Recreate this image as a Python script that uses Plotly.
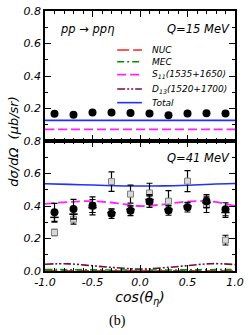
import plotly.graph_objects as go
from plotly.subplots import make_subplots

# ---------------- data ----------------
cos_pts = [-0.9, -0.7, -0.5, -0.3, -0.1, 0.1, 0.3, 0.5, 0.7, 0.9]

# Q = 15 MeV (top)
top_data = [0.167, 0.161, 0.175, 0.175, 0.173, 0.169, 0.159, 0.169, 0.171, 0.169]
top_err = [0.008, 0.006, 0.006, 0.006, 0.006, 0.006, 0.006, 0.006, 0.006, 0.006]

curve_x = [-1.0, -0.75, -0.5, -0.25, 0.0, 0.25, 0.5, 0.75, 1.0]
top_nuc = [0.001] * 9
top_mec = [0.002] * 9
top_s11 = [0.071, 0.071, 0.071, 0.071, 0.071, 0.071, 0.071, 0.071, 0.071]
top_d13 = [0.004, 0.004, 0.003, 0.003, 0.003, 0.003, 0.003, 0.004, 0.004]
top_tot = [0.127, 0.127, 0.127, 0.127, 0.127, 0.127, 0.127, 0.127, 0.127]

# Q = 41 MeV (bottom)
bot_circ = [0.361, 0.381, 0.401, 0.353, 0.371, 0.427, 0.373, 0.393, 0.430, 0.380]
bot_circ_err = [0.055, 0.060, 0.055, 0.030, 0.030, 0.035, 0.030, 0.030, 0.040, 0.040]
bot_cross = [0.330, 0.350, 0.390, 0.360, 0.380, 0.440, 0.380, 0.400, 0.420, 0.360]
bot_cross_err = [0.030, 0.030, 0.030, 0.020, 0.020, 0.030, 0.020, 0.020, 0.030, 0.030]
bot_sq = [0.237, 0.319, 0.400, 0.550, 0.473, 0.480, 0.430, 0.553, 0.410, 0.190]
bot_sq_err = [0.020, 0.030, 0.040, 0.060, 0.055, 0.060, 0.065, 0.065, 0.050, 0.030]

bot_nuc = [0.002] * 9
bot_mec = [0.009, 0.008, 0.007, 0.006, 0.006, 0.006, 0.007, 0.008, 0.009]
bot_s11 = [0.413, 0.425, 0.430, 0.418, 0.400, 0.410, 0.428, 0.428, 0.400]
bot_d13 = [0.042, 0.044, 0.032, 0.020, 0.012, 0.020, 0.033, 0.045, 0.040]
bot_tot = [0.537, 0.533, 0.529, 0.525, 0.523, 0.524, 0.528, 0.534, 0.538]

x_ticks = [-1.0, -0.5, 0.0, 0.5, 1.0]
x_ticklabels = ["-1.0", "-0.5", "0.0", "0.5", "1.0"]
y_top_ticks = [0.2, 0.4, 0.6, 0.8]
y_top_labels = ["0.2", "0.4", "0.6", "0.8"]
y_bot_ticks = [0.0, 0.2, 0.4, 0.6, 0.8]
y_bot_labels = ["0.0", "0.2", "0.4", "0.6", "0.8"]

legend_names = ["NUC", "MEC", "S<sub>11</sub>(1535+1650)", "D<sub>13</sub>(1520+1700)", "Total"]
# ---------------- styles ----------------
styles = [
    dict(color="#ff2020", dash="12px,4px", width=1.6),
    dict(color="#009000", dash="7px,3px,2px,3px", width=1.6),
    dict(color="#ff20ff", dash="9px,4px", width=1.8),
    dict(color="#701040", dash="8px,2px,2px,2px,2px,2px", width=1.6),
    dict(color="#2030ff", dash="solid", width=1.6),
]
FONT = "DejaVu Sans"

fig = make_subplots(rows=2, cols=1, shared_xaxes=True, vertical_spacing=0)

top_curves = [top_nuc, top_mec, top_s11, top_d13, top_tot]
bot_curves = [bot_nuc, bot_mec, bot_s11, bot_d13, bot_tot]
for i, (tc, bc) in enumerate(zip(top_curves, bot_curves)):
    fig.add_trace(go.Scatter(x=curve_x, y=tc, mode="lines", line=dict(shape="spline", **styles[i]),
                             name=legend_names[i], showlegend=False), row=1, col=1)
    fig.add_trace(go.Scatter(x=curve_x, y=bc, mode="lines", line=dict(shape="spline", **styles[i]),
                             name=legend_names[i], showlegend=False), row=2, col=1)

# data points
fig.add_trace(go.Scatter(x=cos_pts, y=top_data, mode="markers",
                         marker=dict(symbol="circle", size=8, color="black"),
                         error_y=dict(type="data", array=top_err, color="black", thickness=1, width=2),
                         showlegend=False), row=1, col=1)

fig.add_trace(go.Scatter(x=cos_pts, y=bot_sq, mode="markers",
                         marker=dict(symbol="square", size=6, color="#d8d8d8", line=dict(color="#808080", width=1)),
                         error_y=dict(type="data", array=bot_sq_err, color="black", thickness=1.2, width=3),
                         showlegend=False), row=2, col=1)
fig.add_trace(go.Scatter(x=cos_pts, y=bot_cross, mode="markers",
                         marker=dict(symbol="line-ew", size=6, color="black", line=dict(color="black", width=1.5)),
                         error_y=dict(type="data", array=bot_cross_err, color="black", thickness=1.2, width=3),
                         showlegend=False), row=2, col=1)
fig.add_trace(go.Scatter(x=cos_pts, y=bot_circ, mode="markers",
                         marker=dict(symbol="circle", size=8, color="black"),
                         error_y=dict(type="data", array=bot_circ_err, color="black", thickness=1.2, width=3),
                         showlegend=False), row=2, col=1)

# axes
axis_common = dict(showline=True, linecolor="black", linewidth=1.5, mirror="ticks",
                   ticks="inside", ticklen=6, tickcolor="black", tickwidth=1.2,
                   showgrid=False, zeroline=False,
                   tickfont=dict(family=FONT, size=11, color="black", style="italic"))
fig.update_xaxes(range=[-1, 1], tickvals=x_ticks, ticktext=x_ticklabels,
                 minor=dict(ticks="inside", ticklen=3, tickvals=[-0.9, -0.8, -0.7, -0.6, -0.4, -0.3, -0.2, -0.1,
                                                                 0.1, 0.2, 0.3, 0.4, 0.6, 0.7, 0.8, 0.9],
                            tickcolor="black", tickwidth=1),
                 **axis_common)
fig.update_xaxes(showticklabels=False, row=1, col=1)
fig.update_xaxes(title=dict(text="cos(θ<sub>η</sub>)", font=dict(family=FONT, size=14, color="black", style="italic"),
                            standoff=2), row=2, col=1)
fig.update_yaxes(range=[0, 0.8], tickvals=y_top_ticks, ticktext=y_top_labels,
                 minor=dict(ticks="inside", ticklen=3, tickvals=[0.1, 0.3, 0.5, 0.7], tickcolor="black", tickwidth=1),
                 row=1, col=1, **axis_common)
fig.update_yaxes(range=[0, 0.8], tickvals=y_bot_ticks, ticktext=y_bot_labels,
                 minor=dict(ticks="inside", ticklen=3, tickvals=[0.1, 0.3, 0.5, 0.7], tickcolor="black", tickwidth=1),
                 row=2, col=1, **axis_common)

# manual compact legend in top panel
leg_y = [0.70, 0.61, 0.51, 0.40, 0.295]
for i, name in enumerate(legend_names):
    fig.add_shape(type="line", xref="x domain", yref="y domain", x0=0.38, x1=0.51, y0=leg_y[i], y1=leg_y[i],
                  line=dict(color=styles[i]["color"], width=styles[i]["width"], dash=styles[i]["dash"]))
    fig.add_annotation(xref="x domain", yref="y domain", x=0.55, y=leg_y[i], text=name, showarrow=False,
                       xanchor="left", yanchor="middle",
                       font=dict(family=FONT, size=9, color="black", style="italic"))

ann_font = dict(family=FONT, size=11.5, color="black", style="italic")
fig.add_annotation(xref="x domain", yref="y domain", x=0.07, y=0.86, text="pp → ppη", showarrow=False,
                   xanchor="left", yanchor="middle", font=dict(family=FONT, size=11.5, color="black", style="italic"))
fig.add_annotation(xref="x domain", yref="y domain", x=0.985, y=0.86, text="Q=15 MeV", showarrow=False,
                   xanchor="right", yanchor="middle", font=ann_font)
fig.add_annotation(xref="x2 domain", yref="y2 domain", x=0.985, y=0.87, text="Q=41 MeV", showarrow=False,
                   xanchor="right", yanchor="middle", font=ann_font)
fig.add_annotation(xref="paper", yref="paper", x=-0.17, y=0.5, text="dσ/dΩ  (μb/sr)", textangle=-90,
                   showarrow=False, xanchor="center", yanchor="middle",
                   font=dict(family=FONT, size=13, color="black", style="italic"))
fig.add_annotation(xref="paper", yref="paper", x=0.38, y=-0.192, text="(b)", showarrow=False,
                   xanchor="center", yanchor="middle",
                   font=dict(family="Liberation Serif", size=14, color="black"))

fig.update_layout(width=249, height=335, margin=dict(l=45, r=11, t=5, b=64),
                  plot_bgcolor="white", paper_bgcolor="white", showlegend=False)

fig.write_html("out.html", config={"displayModeBar": False},
               post_script="document.body.style.margin='0';document.body.style.padding='0';")
